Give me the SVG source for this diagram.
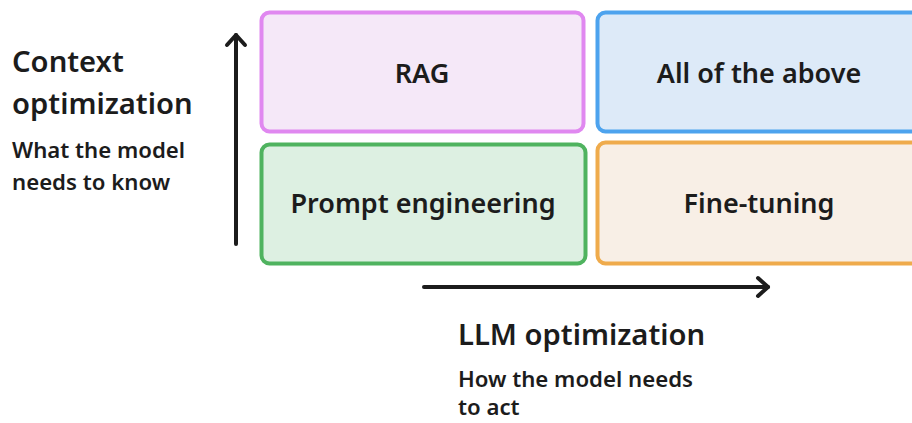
<svg xmlns="http://www.w3.org/2000/svg" width="912" height="423" viewBox="0 0 912 423">
  <style>
    text { font-family: "Noto Sans", "Open Sans", "Liberation Sans", sans-serif; fill: #1c1c1c; font-weight: 600; }
    .title { font-size: 29.2px; }
    .sub { font-size: 22.2px; }
    .lbl { font-size: 27px; text-anchor: middle; }
    .box { stroke-width: 4; }
    .axis { stroke: #1c1c1c; stroke-width: 4; stroke-linecap: round; fill: none; }
    .head { stroke: #1c1c1c; stroke-width: 4; stroke-linecap: round; stroke-linejoin: round; fill: none; }
  </style>
  <rect width="912" height="423" fill="#ffffff"/>

  <g id="rag">
    <rect class="box" x="261.5" y="12.5" width="322" height="119" rx="8" fill="#f5e8f8" stroke="#e088f0"/>
    <text class="lbl" x="422" y="83">RAG</text>
  </g>
  <g id="all-of-the-above">
    <rect class="box" x="597.5" y="12.5" width="330" height="119" rx="8" fill="#ddeaf8" stroke="#4da3ee"/>
    <text class="lbl" x="759" y="83">All of the above</text>
  </g>
  <g id="prompt-engineering">
    <rect class="box" x="261.5" y="144.5" width="324" height="119" rx="8" fill="#ddf0e2" stroke="#4fb35f"/>
    <text class="lbl" x="423" y="213">Prompt engineering</text>
  </g>
  <g id="fine-tuning">
    <rect class="box" x="597.5" y="142.5" width="330" height="121" rx="8" fill="#f8efe6" stroke="#efab4c"/>
    <text class="lbl" x="759" y="213">Fine-tuning</text>
  </g>

  <g id="connectors">
    <line class="axis" x1="236" y1="244" x2="236" y2="35"/>
    <polyline class="head" points="227,45 236,35 245,45"/>
    <line class="axis" x1="424" y1="287" x2="768" y2="287"/>
    <polyline class="head" points="758,278 768,287 758,296"/>
  </g>

  <g id="axis-labels">
    <text class="title" x="12" y="72">Context</text>
    <text class="title" x="12" y="114">optimization</text>
    <text class="sub" x="12" y="158">What the model</text>
    <text class="sub" x="12" y="190">needs to know</text>
    <text class="title" x="458" y="345">LLM optimization</text>
    <text class="sub" x="458" y="387">How the model needs</text>
    <text class="sub" x="458" y="415">to act</text>
  </g>
</svg>
